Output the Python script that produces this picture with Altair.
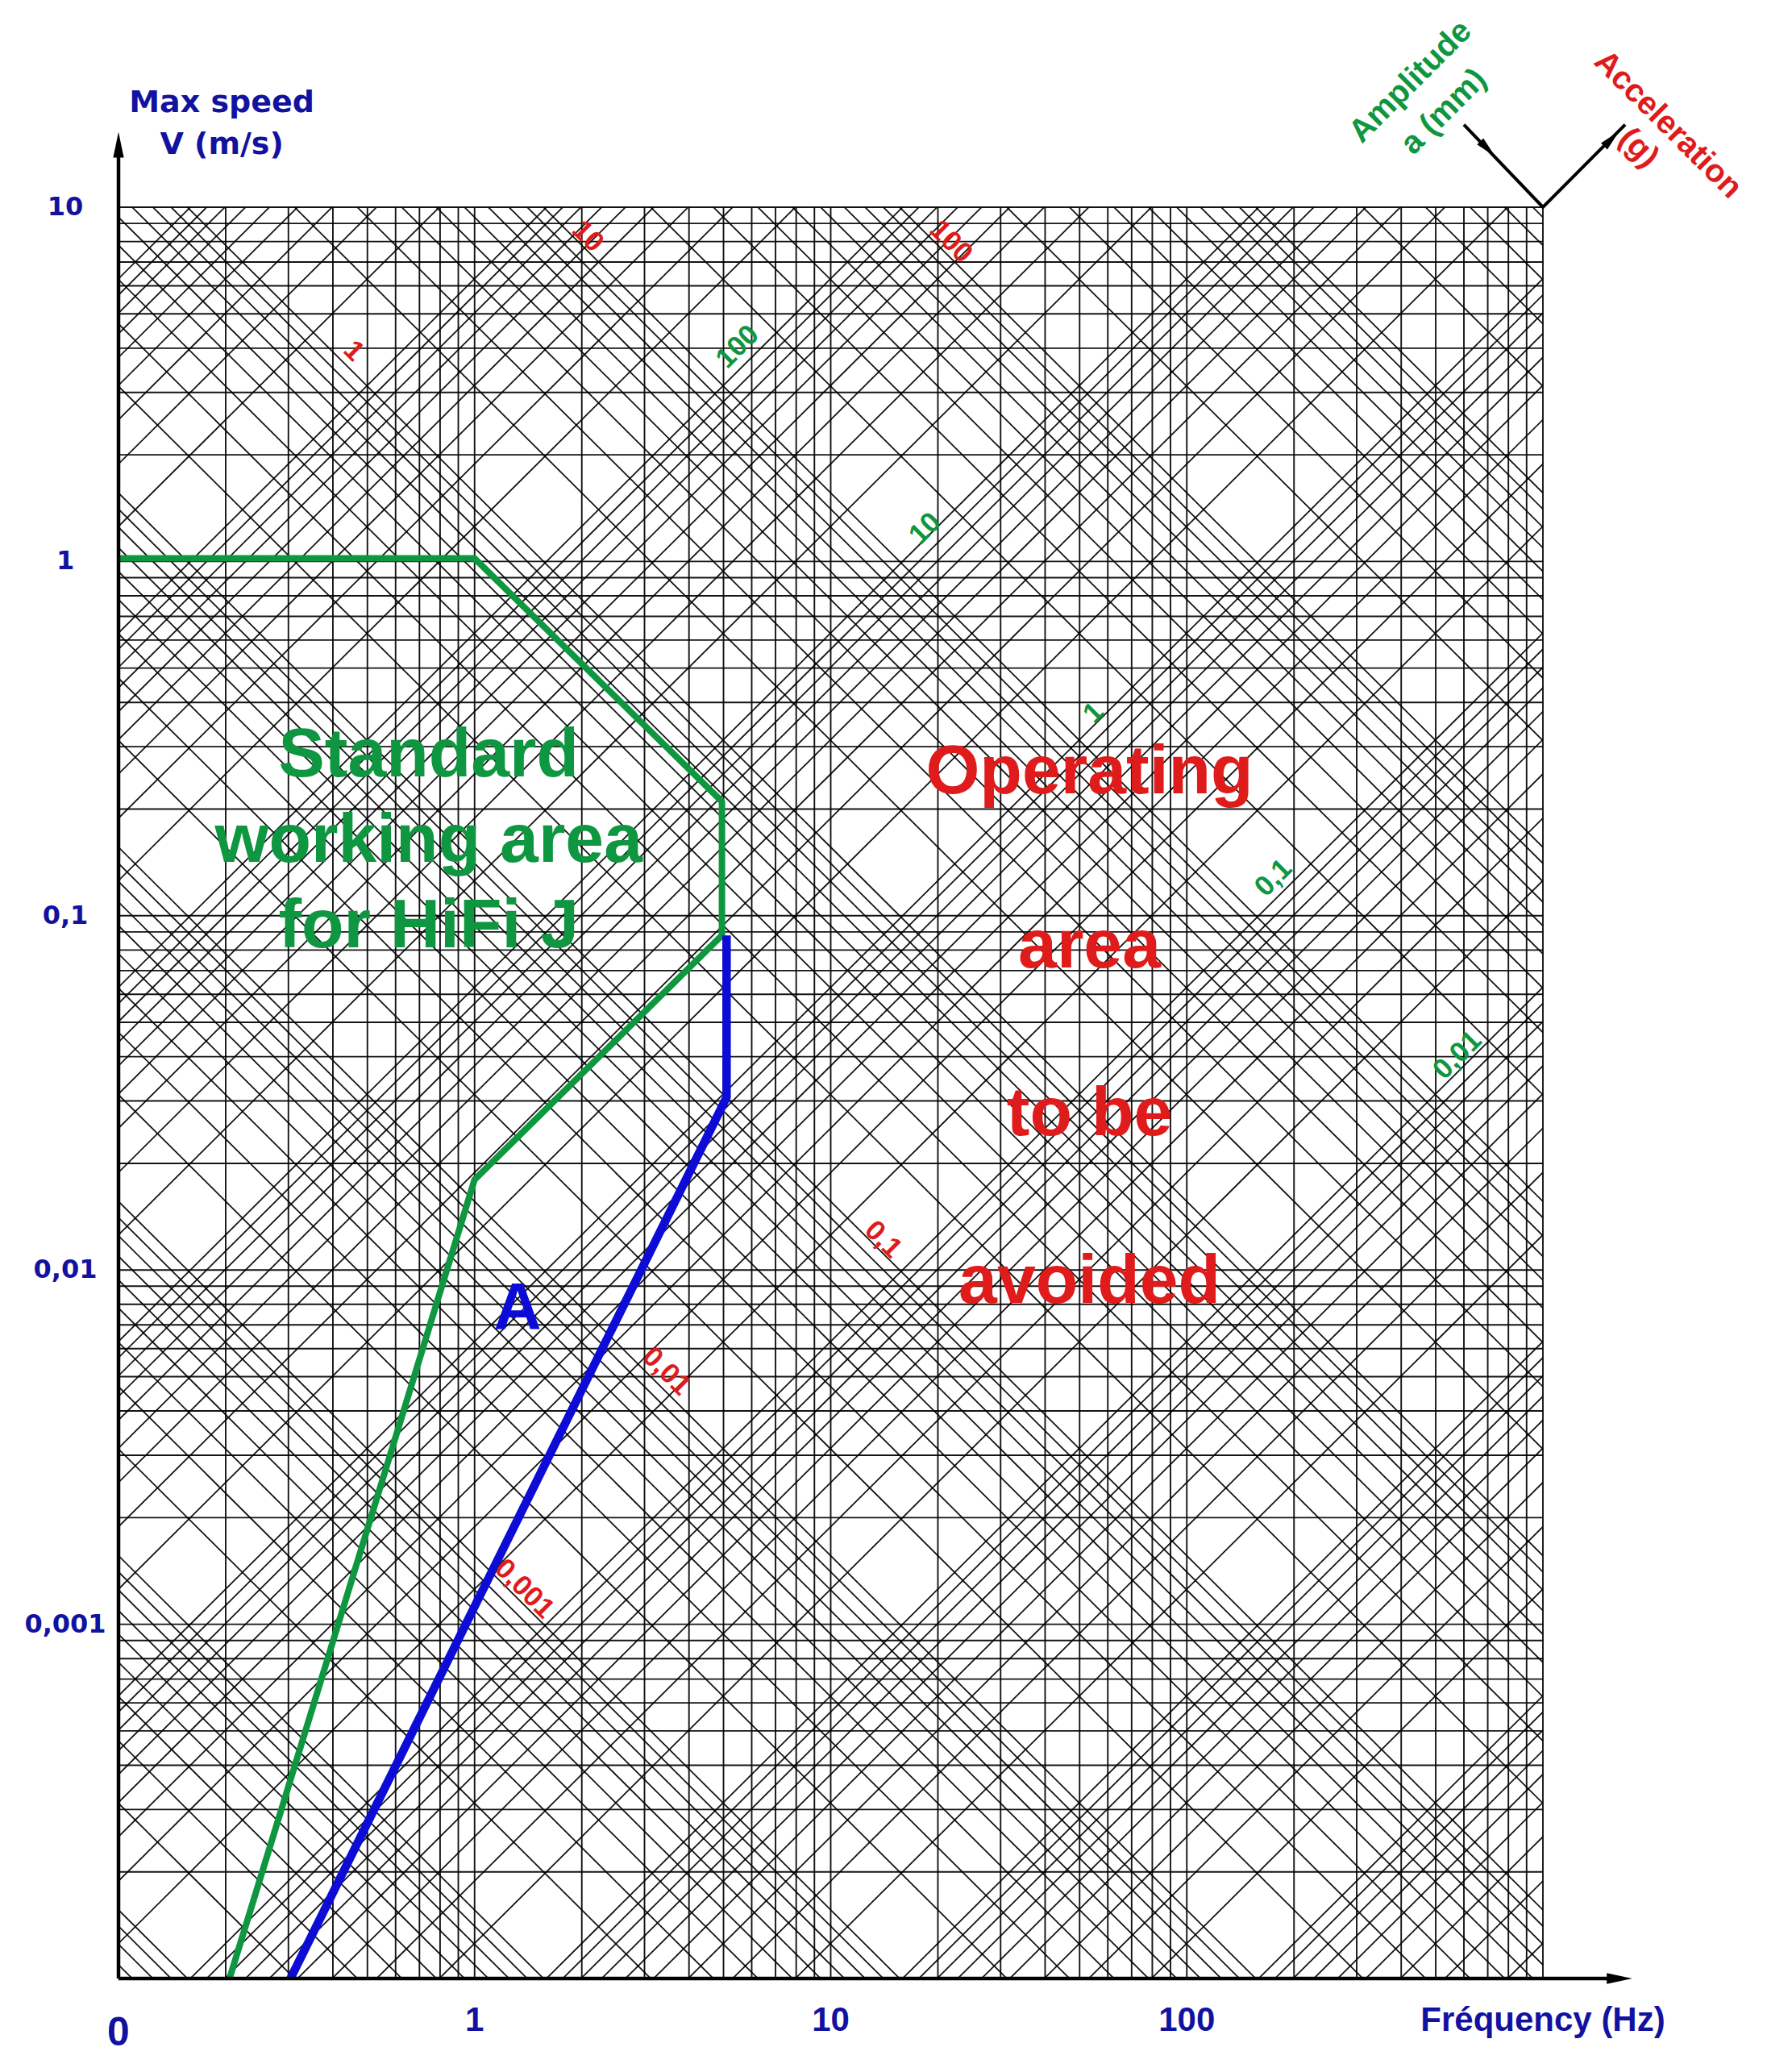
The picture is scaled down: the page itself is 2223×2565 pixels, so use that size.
import math
import altair as alt
import pandas as pd

# ---------------- colours ----------------
NAVY = "#1212a0"
GREEN = "#0f9640"
RED = "#e01b1b"
BLUE = "#0c0cd6"
GRID = "#000000"

# ---------------- scales ----------------
X_DOMAIN = [0.1, 1000]
Y_DOMAIN = [0.0001, 10]

# log grid construction values (nomograph)
MANTISSAS = [1, 2, 3, 4, 5, 6, 7, 8, 9]
F_DECADES = [0.1, 1, 10, 100]
V_DECADES = [0.0001, 0.001, 0.01, 0.1, 1]
AMP_DECADES_MM = [1e-5, 1e-4, 1e-3, 1e-2, 1e-1, 1, 10, 100, 1000, 10000]
ACC_DECADES_G = [1e-6, 1e-5, 1e-4, 1e-3, 1e-2, 1e-1, 1, 10, 100, 1000]
G = 9.81

# axis ticks
X_TICKS = [1, 10, 100, 1000]
X_TICK_LABELS = ["1", "10", "100", "Fréquency (Hz)"]
X_ZERO_TICK = [0.1]
X_ZERO_LABEL = ["0"]
Y_TICKS = [10, 1, 0.1, 0.01, 0.001]
Y_TICK_LABELS = ["10", "1", "0,1", "0,01", "0,001"]

# curves (frequency Hz, speed m/s)
GREEN_CURVE_F = [0.1, 1.0, 4.95, 4.95, 1.0, 0.205]
GREEN_CURVE_V = [1.02, 1.02, 0.21, 0.088, 0.018, 0.0001]
BLUE_CURVE_F = [5.1, 5.1, 0.304]
BLUE_CURVE_V = [0.088, 0.0307, 0.0001]

# small scale labels
AMP_LABELS = ["100", "10", "1", "0,1", "0,01"]
AMP_LABEL_F = [5.47, 18.4, 54.7, 175, 575]
AMP_LABEL_V = [4.04, 1.24, 0.374, 0.128, 0.0404]
ACC_LABELS = ["1", "10", "100", "0,1", "0,01", "0,001"]
ACC_LABEL_F = [0.458, 2.08, 21.8, 14.05, 3.46, 1.38]
ACC_LABEL_V = [3.93, 8.28, 8.0, 0.0122, 0.00518, 0.00126]

# big annotations
STD_LINES = ["Standard", "working area", "for HiFi J"]
STD_F = [0.743, 0.743, 0.743]
STD_V = [0.284, 0.163, 0.0934]
OP_LINES = ["Operating", "area", "to be", "avoided"]
OP_F = [53.3, 53.3, 53.3, 53.3]
OP_V = [0.254, 0.082, 0.0275, 0.00926]
A_TEXT = ["A"]
A_F = [1.32]
A_V = [0.0078]

# axis title (above plot)
YTITLE_LINES = ["Max speed", "V (m/s)"]
YTITLE_F = [0.195, 0.195]
YTITLE_V = [19.7, 15.0]

# top-right legend arrows
AMP_TITLE = ["Amplitude", "a (mm)"]
AMP_TITLE_F = [425, 527]
AMP_TITLE_V = [22.6, 18.6]
ACC_TITLE = ["Acceleration", "(g)"]
ACC_TITLE_F = [2244, 1857]
ACC_TITLE_V = [17.1, 14.7]
LEG_F = [600, 1000, 1702]
LEG_V = [17.1, 10, 17.1]
LEG_HEAD_F = [700, 1560]
LEG_HEAD_V = [14.6, 15.6]
LEG_HEAD_ANGLE = [135, 45]

# axis lines with arrow extensions
YAXIS_F = [0.1, 0.1]
YAXIS_V = [0.0001, 15.0]
XAXIS_F = [0.1, 1641]
XAXIS_V = [0.0001, 0.0001]

ARROW_PATH = "M0,-1L0.42,1L-0.42,1Z"

x_scale = alt.Scale(type="log", domain=X_DOMAIN, nice=False)
y_scale = alt.Scale(type="log", domain=Y_DOMAIN, nice=False)


def X(field):
    return alt.X(f"{field}:Q", scale=x_scale, axis=None)


def Y(field):
    return alt.Y(f"{field}:Q", scale=y_scale, axis=None)


# ---------------- grid data ----------------
vlines = [m * d for d in F_DECADES for m in MANTISSAS] + [X_DOMAIN[1]]
hlines = [m * d for d in V_DECADES for m in MANTISSAS] + [Y_DOMAIN[1]]

diag_rows = []
for d in AMP_DECADES_MM:
    for m in MANTISSAS:
        a_m = m * d / 1000.0
        v1 = 2 * math.pi * X_DOMAIN[0] * a_m
        v2 = 2 * math.pi * X_DOMAIN[1] * a_m
        if v1 < Y_DOMAIN[1] and v2 > Y_DOMAIN[0]:
            diag_rows.append({"f1": X_DOMAIN[0], "v1": v1, "f2": X_DOMAIN[1], "v2": v2})
for d in ACC_DECADES_G:
    for m in MANTISSAS:
        acc = m * d * G
        v1 = acc / (2 * math.pi * X_DOMAIN[0])
        v2 = acc / (2 * math.pi * X_DOMAIN[1])
        if v1 > Y_DOMAIN[0] and v2 < Y_DOMAIN[1]:
            diag_rows.append({"f1": X_DOMAIN[0], "v1": v1, "f2": X_DOMAIN[1], "v2": v2})
diag_df = pd.DataFrame(diag_rows)

vgrid = alt.Chart(pd.DataFrame({"f": vlines})).mark_rule(
    color=GRID, strokeWidth=1.9, opacity=0.92
).encode(x=X("f"))

hgrid = alt.Chart(pd.DataFrame({"v": hlines})).mark_rule(
    color=GRID, strokeWidth=1.9, opacity=0.92
).encode(y=Y("v"))

diag = alt.Chart(diag_df).mark_rule(color=GRID, strokeWidth=1.8, opacity=0.92, clip=True).encode(
    x=X("f1"), y=Y("v1"), x2="f2:Q", y2="v2:Q"
)

green_curve = alt.Chart(
    pd.DataFrame({"f": GREEN_CURVE_F, "v": GREEN_CURVE_V, "i": range(len(GREEN_CURVE_F))})
).mark_line(color=GREEN, strokeWidth=8, strokeJoin="round", clip=True).encode(
    x=X("f"), y=Y("v"), order="i:Q"
)
blue_curve = alt.Chart(
    pd.DataFrame({"f": BLUE_CURVE_F, "v": BLUE_CURVE_V, "i": range(len(BLUE_CURVE_F))})
).mark_line(color=BLUE, strokeWidth=10.5, strokeJoin="round", clip=True).encode(
    x=X("f"), y=Y("v"), order="i:Q"
)


def text_layer(texts, fs, vs, color, size, font="Liberation Sans", weight="bold",
               angle=0, dx=0, dy=0):
    kw = dict(color=color, fontSize=size, font=font, fontWeight=weight,
              align="center", baseline="middle")
    if angle:
        kw["angle"] = angle
    if dx:
        kw["dx"] = dx
    if dy:
        kw["dy"] = dy
    return alt.Chart(pd.DataFrame({"t": texts, "f": fs, "v": vs})).mark_text(**kw).encode(
        x=X("f"), y=Y("v"), text="t:N"
    )


amp_lbl = text_layer(AMP_LABELS, AMP_LABEL_F, AMP_LABEL_V, GREEN, 35, angle=315)
acc_lbl = text_layer(ACC_LABELS, ACC_LABEL_F, ACC_LABEL_V, RED, 35, angle=45)
std_txt = text_layer(STD_LINES, STD_F, STD_V, GREEN, 86)
op_txt = text_layer(OP_LINES, OP_F, OP_V, RED, 86)
a_txt = text_layer(A_TEXT, A_F, A_V, BLUE, 82)
ytitle = text_layer(YTITLE_LINES, YTITLE_F, YTITLE_V, NAVY, 38, font="DejaVu Sans")
amp_title = text_layer(AMP_TITLE, AMP_TITLE_F, AMP_TITLE_V, GREEN, 40, angle=315)
acc_title = text_layer(ACC_TITLE, ACC_TITLE_F, ACC_TITLE_V, RED, 40, angle=45)

# axis tick labels
x_labels = text_layer(X_TICK_LABELS, X_TICKS, [Y_DOMAIN[0]] * len(X_TICKS), NAVY, 42, dy=52)
x_zero = text_layer(X_ZERO_LABEL, X_ZERO_TICK, [Y_DOMAIN[0]], NAVY, 50, dy=68)
y_labels = text_layer(Y_TICK_LABELS, [X_DOMAIN[0]] * len(Y_TICKS), Y_TICKS, NAVY, 32,
                      font="DejaVu Sans", dx=-66)

# legend arms
leg_line = alt.Chart(
    pd.DataFrame({"f": LEG_F, "v": LEG_V, "i": range(len(LEG_F))})
).mark_line(color="black", strokeWidth=4).encode(x=X("f"), y=Y("v"), order="i:Q")
leg_heads = alt.Chart(
    pd.DataFrame({"f": LEG_HEAD_F, "v": LEG_HEAD_V, "a": LEG_HEAD_ANGLE})
).mark_point(shape=ARROW_PATH, filled=True, color="black", opacity=1, size=700).encode(
    x=X("f"), y=Y("v"), angle=alt.Angle("a:Q", scale=None)
)

# axis lines with arrows
yaxis = alt.Chart(pd.DataFrame({"f": YAXIS_F, "v": YAXIS_V, "i": [0, 1]})).mark_line(
    color="black", strokeWidth=4.5
).encode(x=X("f"), y=Y("v"), order="i:Q")
xaxis = alt.Chart(pd.DataFrame({"f": XAXIS_F, "v": XAXIS_V, "i": [0, 1]})).mark_line(
    color="black", strokeWidth=4.5
).encode(x=X("f"), y=Y("v"), order="i:Q")
heads = alt.Chart(
    pd.DataFrame({"f": [YAXIS_F[1], XAXIS_F[1]], "v": [YAXIS_V[1], XAXIS_V[1]], "a": [0, 90]})
).mark_point(shape=ARROW_PATH, filled=True, color="black", opacity=1, size=1000).encode(
    x=X("f"), y=Y("v"), angle=alt.Angle("a:Q", scale=None)
)

chart = alt.layer(
    vgrid, hgrid, diag,
    green_curve, blue_curve,
    amp_lbl, acc_lbl, std_txt, op_txt, a_txt,
    ytitle, amp_title, acc_title,
    x_labels, x_zero, y_labels,
    leg_line, leg_heads, yaxis, xaxis, heads,
).properties(
    width=1767,
    height=2197,
    autosize=alt.AutoSizeParams(type="none"),
    padding={"left": 139, "top": 249, "right": 300, "bottom": 100},
    background="white",
).configure_view(stroke="transparent")

chart.save("out.html", embed_options={"renderer": "svg", "actions": False})
